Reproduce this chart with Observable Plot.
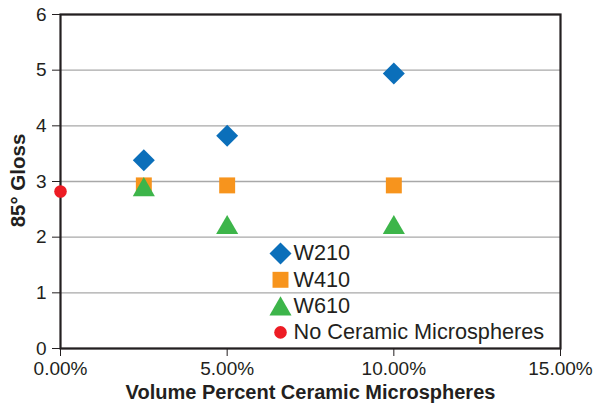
<!DOCTYPE html>
<html>
<head>
<meta charset="utf-8">
<script src="https://cdn.jsdelivr.net/npm/d3@7"></script>
<script src="https://cdn.jsdelivr.net/npm/@observablehq/plot@0.6"></script>
<style>
  html, body { margin: 0; padding: 0; background: #fff; }
  svg { display: block; }
</style>
</head>
<body>
<div id="chart"></div>
<script>
// Data (x = volume percent, y = 85° gloss)
const volumePct = [2.5, 5, 10];
const w210 = [3.38, 3.82, 4.94];
const w410 = [2.93, 2.93, 2.93];
const w610 = [2.85, 2.17, 2.17];
const noCeramicX = [0];
const noCeramicY = [2.82];

const xTicks = [0, 5, 10, 15];
const yTicks = [0, 1, 2, 3, 4, 5, 6];
const seriesNames = ["W210", "W410", "W610", "No Ceramic Microspheres"];
const seriesColors = ["#0b6fba", "#f7941d", "#3db54a", "#ed1c24"];

const toRows = (xs, ys) => xs.map((x, i) => ({x, y: ys[i]}));

const FONT = "Liberation Sans, Arial, sans-serif";
const ink = "#231f20";

const legendMarks = [];
const legendSpec = [
  {symbol: "diamond2", r: 9.9, off: 0},
  {symbol: "square", r: 9.0, off: 0},
  {symbol: "triangle", r: 8.2, off: 3},
  {symbol: "circle", r: 6.3, off: 0}
];
seriesNames.forEach((name, i) => {
  const dy = 239 + i * 26.3;
  legendMarks.push(
    Plot.dot([name], {frameAnchor: "top-left", dx: 220, dy: dy + legendSpec[i].off, symbol: legendSpec[i].symbol, r: legendSpec[i].r, fill: seriesColors[i], stroke: "none"}),
    Plot.text([name], {text: d => d, frameAnchor: "top-left", dx: 233, dy, textAnchor: "start", lineAnchor: "middle", fontSize: 21.7, fill: ink, fontFamily: FONT})
  );
});

const chart = Plot.plot({
  width: 594,
  height: 403,
  marginLeft: 60,
  marginRight: 34,
  marginTop: 14,
  marginBottom: 55,
  style: {fontFamily: FONT, background: "#fff", color: ink, overflow: "visible"},
  x: {domain: [0, 15], label: null},
  y: {domain: [0, 6], label: null},
  marks: [
    Plot.gridY(yTicks, {stroke: "#a8a8a8", strokeOpacity: 1, strokeWidth: 1.4}),
    Plot.axisY(yTicks, {tickSize: 8, tickPadding: 6, fontSize: 19, stroke: ink, fill: ink, tickFormat: d => String(d)}),
    Plot.axisX(xTicks, {tickSize: 8, tickPadding: 5, fontSize: 19, stroke: ink, fill: ink, tickFormat: d => d.toFixed(2) + "%"}),
    Plot.text(["Volume Percent Ceramic Microspheres"], {frameAnchor: "bottom", dy: 44, lineAnchor: "middle", text: d => d, fontSize: 20, fontWeight: "bold", fill: ink, fontFamily: FONT}),
    Plot.text(["85° Gloss"], {frameAnchor: "left", dx: -42, dy: -1, rotate: -90, textAnchor: "middle", lineAnchor: "middle", text: d => d, fontSize: 20.5, fontWeight: "bold", fill: ink, fontFamily: FONT}),
    Plot.frame({stroke: ink, strokeWidth: 2.2}),
    Plot.dot(toRows(volumePct, w410), {x: "x", y: "y", symbol: "square", r: 9.0, fill: seriesColors[1], stroke: "none"}),
    Plot.dot(toRows(volumePct, w610), {x: "x", y: "y", symbol: "triangle", r: 8.2, fill: seriesColors[2], stroke: "none"}),
    Plot.dot(toRows(volumePct, w210), {x: "x", y: "y", symbol: "diamond2", r: 9.9, fill: seriesColors[0], stroke: "none"}),
    Plot.dot(toRows(noCeramicX, noCeramicY), {x: "x", y: "y", symbol: "circle", r: 6.3, fill: seriesColors[3], stroke: "none"}),
    ...legendMarks
  ]
});
document.getElementById("chart").appendChild(chart);
</script>
</body>
</html>
